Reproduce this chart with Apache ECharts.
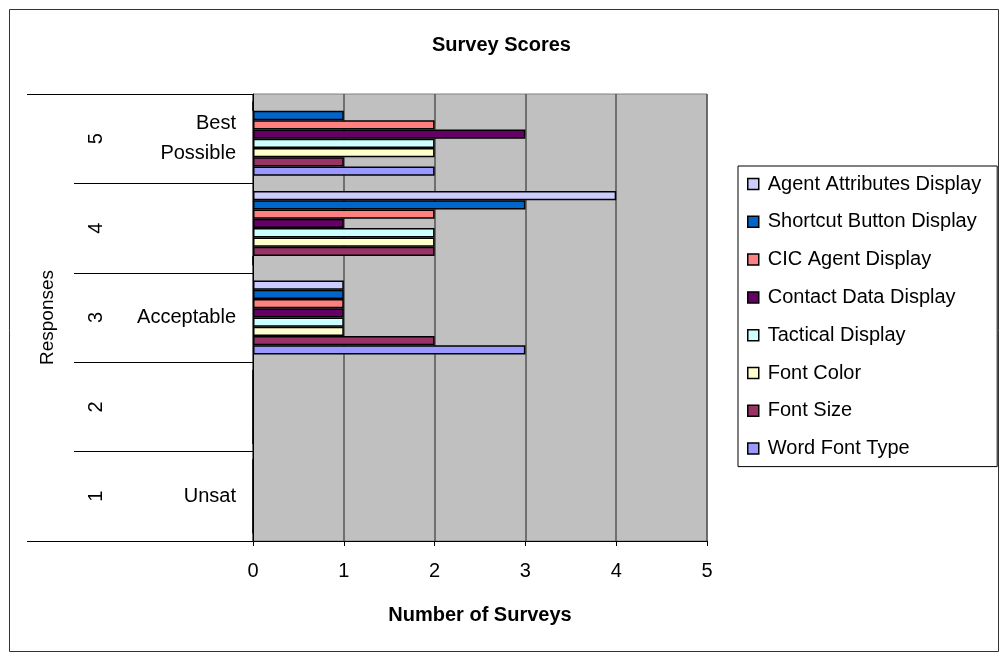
<!DOCTYPE html>
<html><head><meta charset="utf-8">
<script src="https://cdn.jsdelivr.net/npm/echarts@6/dist/echarts.min.js"></script>
<style>html,body{margin:0;padding:0;background:#fff}#c{width:1003px;height:656px}</style>
</head><body><div id="c"></div>
<script>
// Categories (bottom to top)
const responses = ['1', '2', '3', '4', '5'];
const responseLabels = ['Unsat', '', 'Acceptable', '', 'Best Possible'];
const xTicks = [0, 1, 2, 3, 4, 5];
// Series values, index matches responses
const agentAttributesDisplay = [0, 0, 1, 4, 0];
const shortcutButtonDisplay = [0, 0, 1, 3, 1];
const cicAgentDisplay = [0, 0, 1, 2, 2];
const contactDataDisplay = [0, 0, 1, 1, 3];
const tacticalDisplay = [0, 0, 1, 2, 2];
const fontColor = [0, 0, 1, 2, 2];
const fontSize = [0, 0, 2, 2, 1];
const wordFontType = [0, 0, 3, 0, 2];

// Listed top to bottom (legend order and order within each band)
const seriesDefs = [
  ['Agent Attributes Display', agentAttributesDisplay, '#CCCCFF'],
  ['Shortcut Button Display', shortcutButtonDisplay, '#0066CC'],
  ['CIC Agent Display', cicAgentDisplay, '#FF8080'],
  ['Contact Data Display', contactDataDisplay, '#660066'],
  ['Tactical Display', tacticalDisplay, '#CCFFFF'],
  ['Font Color', fontColor, '#FFFFCC'],
  ['Font Size', fontSize, '#993366'],
  ['Word Font Type', wordFontType, '#9999FF']
];

const FONT = "'Liberation Sans', Arial, sans-serif";
const chart = echarts.init(document.getElementById('c'), null, {renderer: 'canvas'});

const option = {
  animation: false,
  backgroundColor: '#fff',
  textStyle: {fontFamily: FONT, color: '#000'},
  title: {
    text: 'Survey Scores', left: 'center', top: 30,
    textStyle: {fontFamily: FONT, fontSize: 20, fontWeight: 'bold', color: '#000'}
  },
  graphic: [{
    type: 'rect', left: 7, top: 7, silent: true,
    shape: {width: 989, height: 642},
    style: {fill: 'none', stroke: '#333', lineWidth: 1}
  }],
  legend: {
    orient: 'vertical', left: 738, top: 166,
    data: seriesDefs.map(d => d[0]),
    icon: 'rect', itemWidth: 11, itemHeight: 11, itemGap: 17.8,
    padding: [8, 16, 8, 9],
    borderColor: '#000', borderWidth: 1,
    textStyle: {fontFamily: FONT, fontSize: 20, color: '#000', lineHeight: 20, padding: [0, 0, 0, 4]},
    itemStyle: {borderColor: '#000', borderWidth: 1.5}
  },
  grid: {
    left: 253, top: 94, width: 454, height: 447,
    show: true, backgroundColor: '#C0C0C0', borderColor: '#808080', borderWidth: 1
  },
  xAxis: {
    type: 'value', min: 0, max: 5, interval: 1,
    name: 'Number of Surveys', nameLocation: 'middle', nameGap: 64,
    nameTextStyle: {fontFamily: FONT, fontSize: 20, fontWeight: 'bold', color: '#000'},
    axisLine: {show: true, lineStyle: {color: '#000', width: 1}},
    axisTick: {show: true, length: 5, lineStyle: {color: '#000'}},
    axisLabel: {margin: 20, fontSize: 20, color: '#000', fontFamily: FONT,
      formatter: v => String(xTicks[v] !== undefined ? xTicks[v] : v)},
    splitLine: {show: true, lineStyle: {color: '#555', width: 1.5}}
  },
  yAxis: [{
    type: 'category', data: responseLabels, position: 'left',
    name: 'Responses', nameLocation: 'middle', nameGap: 196, nameRotate: 90,
    nameTextStyle: {fontFamily: FONT, fontSize: 19, color: '#000'},
    axisLine: {show: true, lineStyle: {color: '#000', width: 1}},
    axisTick: {show: true, length: 179, lineStyle: {color: '#000', width: 1}},
    axisLabel: {margin: 17, fontSize: 20, color: '#000', fontFamily: FONT, lineHeight: 30,
      formatter: v => v.replace(' ', '\n')},
    splitLine: {show: false}
  }, {
    type: 'category', data: responses, position: 'left',
    axisLine: {show: false}, axisTick: {show: false},
    axisLabel: {margin: 147, rotate: 90, fontSize: 20, color: '#000', fontFamily: FONT},
    splitLine: {show: false}
  }, {
    type: 'category', data: [''], position: 'left',
    axisLine: {show: false},
    axisTick: {show: true, length: 226, lineStyle: {color: '#000', width: 1}},
    axisLabel: {show: false}, splitLine: {show: false}
  }],
  series: seriesDefs.map(d => ({
    name: d[0], type: 'bar', yAxisIndex: 0, data: d[1],
    barGap: '0%', barCategoryGap: '17%',
    itemStyle: {color: d[2], borderColor: '#000', borderWidth: 1.5}
  }))
};
chart.setOption(option);
</script>
</body></html>
